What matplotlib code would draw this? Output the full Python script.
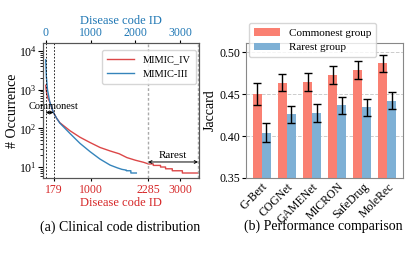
import matplotlib
matplotlib.use("Agg")
import matplotlib.pyplot as plt
import numpy as np

plt.rcParams['font.family'] = ['Liberation Serif', 'DejaVu Serif']
plt.rcParams['mathtext.fontset'] = 'stix'

# ---- (a) clinical code distribution ----
iv_x = [0, 10, 25, 50, 90, 165, 240, 315, 540, 764, 989, 1213, 1438, 1640, 1813,
        2000, 2187, 2292, 2400, 2400, 2562, 2562, 2674, 2674, 2824, 2824, 3049, 3049, 3400]
iv_y = [1300, 1000, 760, 600, 480, 270, 185, 140, 87, 59, 43, 32, 26, 22, 17.5,
        15, 13.2, 12, 12, 11, 11, 10, 10, 9, 9, 8, 8, 7, 7]
iii_x = [0, 15, 40, 90, 165, 240, 315, 540, 764, 989, 1213, 1438, 1600, 1700, 1800,
         1800, 1900, 1900, 2022]
iii_y = [5900, 2200, 1000, 490, 270, 185, 137, 74, 41, 25, 16, 11.2, 9.5, 8.7, 8.3,
         8, 8, 7, 7]
bottom_ticks = [179, 1000, 2285, 3000]
top_ticks = [0, 1000, 2000, 3000]
common_cut = 179
rare_cut = 2285
max_code = 3400

# ---- (b) performance comparison ----
models = ['G-Bert', 'COGNet', 'GAMENet', 'MICRON', 'SafeDrug', 'MoleRec']
common = [0.450, 0.4635, 0.4647, 0.473, 0.479, 0.487]
common_err = [0.013, 0.010, 0.011, 0.0105, 0.011, 0.010]
rare = [0.404, 0.426, 0.4274, 0.4365, 0.4345, 0.442]
rare_err = [0.011, 0.010, 0.0105, 0.0103, 0.0103, 0.0103]

RED = '#d62728'
BLUE = '#1f77b4'
SALMON = '#fa8072'
LBLUE = '#7eb0d5'

TICK = 8.5
LAB = 9

fig = plt.figure(figsize=(4.15, 2.7), dpi=100)
ax = fig.add_axes([43/415, 1-178/270, 156/415, 135/270])
ax.plot(iv_x, iv_y, color=RED, lw=1.0, alpha=0.85, label='MIMIC_IV')
ax.plot(iii_x, iii_y, color=BLUE, lw=1.0, alpha=0.9, label='MIMIC-III')
ax.set_yscale('log')
ax.set_xlim(-60, 3420)
ax.set_ylim(5.2, 16100)
ax.axvline(0, color='black', ls='--', lw=0.6, dashes=(2, 2))
ax.axvline(common_cut, color='black', ls='--', lw=0.6, dashes=(2, 2))
ax.axvline(rare_cut, color='#aaaaaa', ls='--', lw=1.0, dashes=(2, 1.5))
ax.axvline(max_code, color='#aaaaaa', ls='--', lw=1.0, dashes=(2, 1.5))
ax.annotate('', xy=(0, 257), xytext=(common_cut, 257),
            arrowprops=dict(arrowstyle='<->', color='black', lw=0.7, shrinkA=0, shrinkB=0,
                            mutation_scale=5))
ax.text(180, 370, 'Commonest', ha='center', va='center', fontsize=7.5, clip_on=False)
ax.annotate('', xy=(rare_cut, 13.5), xytext=(max_code, 13.5),
            arrowprops=dict(arrowstyle='<->', color='black', lw=0.7, shrinkA=0, shrinkB=0,
                            mutation_scale=5))
ax.text((rare_cut + max_code) / 2, 19.5, 'Rarest', ha='center', va='center', fontsize=8)
ax.set_xticks(bottom_ticks)
ax.set_xticklabels([str(t) for t in bottom_ticks], color=RED, fontsize=TICK)
ax.tick_params(axis='x', length=2, pad=2)
ax.tick_params(axis='y', labelsize=TICK, pad=1)
ax.set_xlabel('Disease code ID', color=RED, fontsize=LAB, labelpad=1)
ax.set_ylabel('# Occurrence', fontsize=10, labelpad=0)
for s in ax.spines.values():
    s.set_color('#555555')
leg = ax.legend(loc='upper right', fontsize=7.5, frameon=True, handlelength=2.6,
                borderpad=0.5, labelspacing=0.5, borderaxespad=0,
                bbox_to_anchor=(0.98, 0.95))
leg.get_frame().set_edgecolor('#cccccc')

axt = ax.twiny()
axt.set_xlim(ax.get_xlim())
axt.set_xticks(top_ticks)
axt.set_xticklabels([str(t) for t in top_ticks], color=BLUE, fontsize=TICK)
axt.tick_params(axis='x', length=2, pad=1)
axt.set_xlabel('Disease code ID', color=BLUE, fontsize=LAB, labelpad=2)
for s in axt.spines.values():
    s.set_color('#555555')

fig.text(120/415, 1-227/270, '(a) Clinical code distribution', ha='center', va='center', fontsize=10)

# ---- right panel ----
bx = fig.add_axes([246/415, 1-178/270, 157/415, 135/270])
x = np.arange(len(models))
w = 0.36
bx.bar(x - w/2, common, w, color=SALMON, label='Commonest group', zorder=2)
bx.bar(x + w/2, rare, w, color=LBLUE, label='Rarest group', zorder=2)
bx.errorbar(x - w/2, common, yerr=common_err, fmt='none', ecolor='black', elinewidth=1.0,
            capsize=3, capthick=1.0, zorder=3)
bx.errorbar(x + w/2, rare, yerr=rare_err, fmt='none', ecolor='black', elinewidth=1.0,
            capsize=3, capthick=1.0, zorder=3)
bx.set_xlim(-0.63, 5.62)
bx.set_ylim(0.35, 0.511)
bx.set_yticks([0.35, 0.40, 0.45, 0.50])
bx.set_yticklabels(['0.35', '0.40', '0.45', '0.50'])
bx.yaxis.grid(True, ls='--', color='#cccccc', lw=0.7, zorder=0)
bx.set_axisbelow(True)
bx.set_xticks(x)
bx.set_xticklabels(models, rotation=45, ha='right', rotation_mode='anchor', fontsize=TICK)
bx.tick_params(axis='x', length=0, pad=2)
bx.tick_params(axis='y', labelsize=TICK, length=3, pad=1)
bx.set_ylabel('Jaccard', fontsize=10, labelpad=2)
for s in bx.spines.values():
    s.set_color('#888888')
leg2 = bx.legend(loc='upper left', fontsize=8, frameon=True, bbox_to_anchor=(0.02, 1.15),
                 handlelength=2.3, borderpad=0.45, labelspacing=0.45, borderaxespad=0)
leg2.get_frame().set_edgecolor('#cccccc')

fig.text(323/415, 1-226/270, '(b) Performance comparison', ha='center', va='center', fontsize=10)

fig.savefig('out.png', dpi=100)
